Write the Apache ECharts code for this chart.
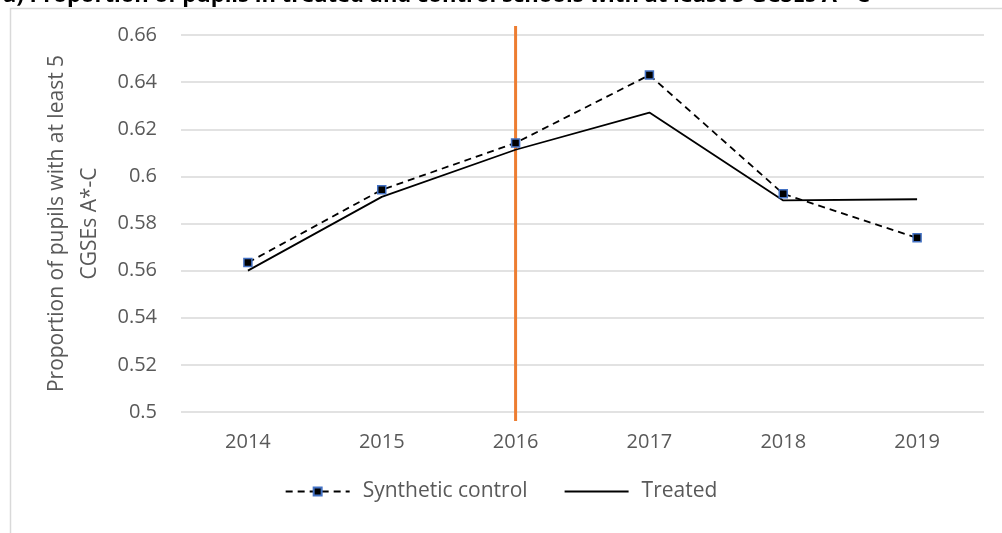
<!DOCTYPE html>
<html>
<head>
<meta charset="utf-8">
<script src="https://cdn.jsdelivr.net/npm/echarts@6/dist/echarts.min.js"></script>
<style>
html,body{margin:0;padding:0;background:#fff;}
#chart{width:1002px;height:533px;}
</style>
</head>
<body>
<div id="chart"></div>
<script>
const years = ['2014', '2015', '2016', '2017', '2018', '2019'];
const syntheticControl = [0.5634, 0.5943, 0.6142, 0.6430, 0.5926, 0.5739];
const treated = [0.5600, 0.5913, 0.6113, 0.6271, 0.5898, 0.5903];
const treatmentYear = '2016';
const yTicks = { min: 0.5, max: 0.66, interval: 0.02 };
const titleText = 'a) Proportion of pupils in treated and control schools with at least 5 GCSEs A*-C';
const yName = 'Proportion of pupils with at least 5\nCGSEs A*-C';

const FONT = '"Open Sans", sans-serif';
const chart = echarts.init(document.getElementById('chart'));
chart.setOption({
  animation: false,
  backgroundColor: '#fff',
  title: {
    text: titleText,
    left: -2, top: -20,
    textStyle: { fontFamily: FONT, fontWeight: 'bold', fontSize: 22, color: '#000' }
  },
  graphic: [{
    type: 'rect', left: 8, top: 6, silent: true,
    shape: { width: 1100, height: 600 },
    style: { fill: 'none', stroke: '#d9d9d9', lineWidth: 1.5 }
  }],
  legend: {
    bottom: 26, left: 'center',
    itemWidth: 64, itemHeight: 10, itemGap: 36,
    textStyle: { fontFamily: FONT, fontSize: 21, color: '#595959', padding: [0, 0, 0, 8] },
    data: [
      { name: 'Synthetic control' },
      { name: 'Treated', itemStyle: { color: 'rgba(0,0,0,0)', borderWidth: 0 } }
    ]
  },
  grid: [
    { left: 181, right: 18, top: 35, bottom: 121, containLabel: false },
    { left: 181, right: 18, top: 26, bottom: 112, containLabel: false }
  ],
  xAxis: [{
    gridIndex: 0, type: 'category', data: years, boundaryGap: true,
    axisLine: { show: false }, axisTick: { show: false },
    axisLabel: { fontFamily: FONT, fontSize: 20, color: '#595959', margin: 20 }
  }, {
    gridIndex: 1, type: 'category', data: years, show: false
  }],
  yAxis: [{
    gridIndex: 0, type: 'value', min: yTicks.min, max: yTicks.max, interval: yTicks.interval,
    name: yName, nameLocation: 'middle', nameGap: 66, nameRotate: 90,
    nameTextStyle: { fontFamily: FONT, fontSize: 21, color: '#595959', lineHeight: 33, align: 'center' },
    axisLine: { show: false }, axisTick: { show: false },
    axisLabel: { fontFamily: FONT, fontSize: 20, color: '#595959', margin: 24,
      formatter: v => String(Math.round(v * 100) / 100) },
    splitLine: { lineStyle: { color: '#d9d9d9', width: 1.5 } }
  }, {
    gridIndex: 1, type: 'value', min: 0, max: 1, show: false
  }],
  series: [{
    name: 'Synthetic control', type: 'line', data: syntheticControl,
    xAxisIndex: 0, yAxisIndex: 0,
    symbol: 'rect', symbolSize: 8, showAllSymbol: true,
    itemStyle: { color: '#000', borderColor: '#4472C4', borderWidth: 1.5 },
    lineStyle: { color: '#000', width: 1.8, type: [7, 5] },
    z: 3
  }, {
    name: 'Treated', type: 'line', data: treated,
    xAxisIndex: 0, yAxisIndex: 0,
    symbol: 'none',
    itemStyle: { color: '#000' },
    lineStyle: { color: '#000', width: 1.8 },
    z: 2
  }, {
    name: 'treatment', type: 'line', xAxisIndex: 1, yAxisIndex: 1,
    data: [[treatmentYear, 0], [treatmentYear, 1]],
    symbol: 'none', silent: true,
    lineStyle: { color: '#ED7D31', width: 3 },
    z: 1
  }]
});
</script>
</body>
</html>
